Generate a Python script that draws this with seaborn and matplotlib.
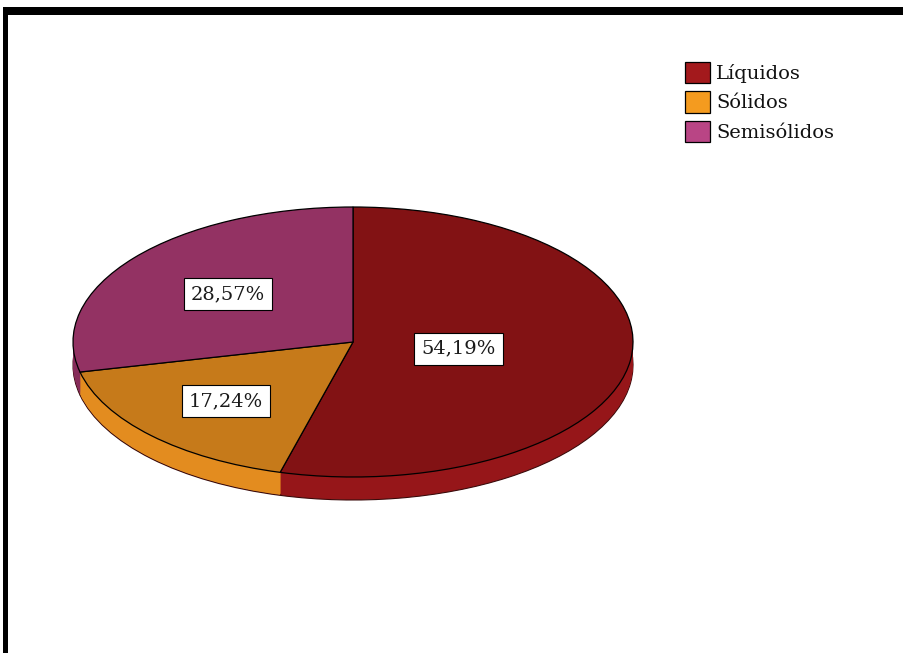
import numpy as np
import matplotlib
matplotlib.use("Agg")
import matplotlib.pyplot as plt
import seaborn as sns
from matplotlib.patches import Patch, Rectangle

categories = ["Líquidos", "Sólidos", "Semisólidos"]
values = [54.19, 17.24, 28.57]
legend_colors = ["#a3191c", "#f49b1f", "#b94585"]
top_colors = ["#821214", "#c67a1a", "#933263"]
side_colors = ["#961619", "#e38c1f", "#862c5a"]
label_dist = [0.38, 0.63, 0.57]

sns.set_theme(style="white")
plt.rcParams['font.family'] = ['DejaVu Serif']

W, H = 904, 653
fig = plt.figure(figsize=(W / 100, H / 100), dpi=100)
fig.patch.set_facecolor("white")
ax = fig.add_axes([0, 0, 1, 1])

# pixel geometry of the ellipse
cx, cy, rx, ry, dpx = 353, 342, 280, 135, 23
depth = dpx / ry

n_layers = 24
for k in range(n_layers, 0, -1):
    off = -depth * k / n_layers
    lw = 0.8 if k == n_layers else 0
    ax.pie(values, colors=side_colors, startangle=90, counterclock=False,
           center=(0, off), radius=1,
           wedgeprops=dict(linewidth=lw, edgecolor="#3a0a0a"))

fmt = lambda p: f"{p:.2f}%".replace(".", ",")
wedges, texts, autotexts = ax.pie(
    values, colors=top_colors, startangle=90, counterclock=False,
    radius=1, autopct=fmt, pctdistance=0.5,
    wedgeprops=dict(edgecolor="black", linewidth=0.9),
    textprops=dict(fontsize=14, color="#1a1a1a"))

for w, t, d in zip(wedges, autotexts, label_dist):
    mid = np.deg2rad((w.theta1 + w.theta2) / 2)
    t.set_position((d * np.cos(mid), d * np.sin(mid)))
    t.set_ha("center")
    t.set_va("center")
    t.set_bbox(dict(boxstyle="square,pad=0.36", fc="white", ec="black", lw=0.8))

ax.set_aspect("auto")
ax.set_xlim(-cx / rx, (W - cx) / rx)
ax.set_ylim(-(H - cy) / ry, cy / ry)
ax.axis("off")

handles = [Patch(facecolor=c, edgecolor="black", linewidth=0.9, label=l)
           for c, l in zip(legend_colors, categories)]
fig.legend(handles=handles, loc="upper left",
           bbox_to_anchor=(685 / W, 1 - 62 / H), frameon=False,
           fontsize=14, handlelength=1.3, handleheight=1.3,
           handletextpad=0.3, labelspacing=0.42, borderpad=0,
           borderaxespad=0, labelcolor="#111111")

# heavy black frame on top and left
fig.add_artist(Rectangle((3 / W, 1 - 15 / H), 1, 8 / H,
                         transform=fig.transFigure, color="black", lw=0))
fig.add_artist(Rectangle((3 / W, 0), 5 / W, 1 - 7 / H,
                         transform=fig.transFigure, color="black", lw=0))

fig.savefig("out.png", dpi=100)
